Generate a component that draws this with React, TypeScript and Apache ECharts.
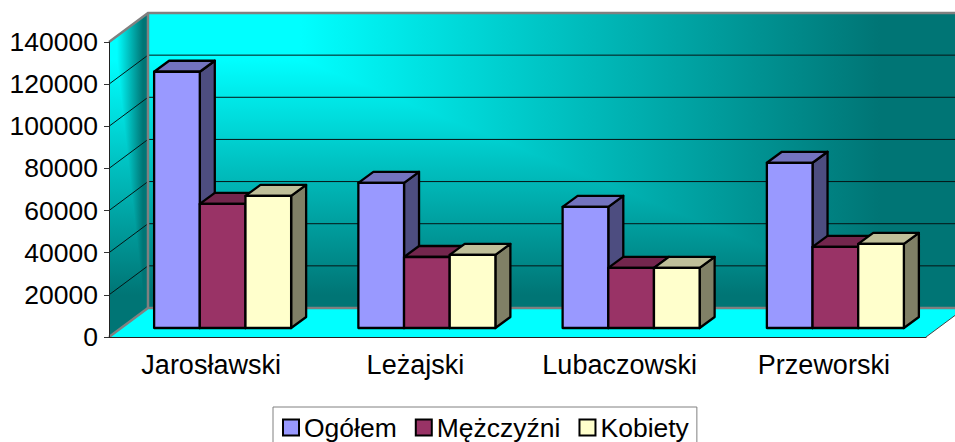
import React, { useEffect, useRef } from "react";
import * as echarts from "echarts";

const categories = ["Jarosławski", "Leżajski", "Lubaczowski", "Przeworski"];
const ogolem = [121600, 68900, 57500, 78400];
const mezczyzni = [58900, 33700, 28500, 38500];
const kobiety = [62700, 34700, 28500, 39900];
const yTicks = [20000, 40000, 60000, 80000, 100000, 120000];

const FONT = "Liberation Sans";
const DEPTH_X = 39;
const DEPTH_Y = 29;
const BAR_DX = 15;
const BAR_DY = 11;
const BAR_OFFSET_X = 11.5;
const BAR_OFFSET_Y = 9;
const BAR_FRACTION = 0.2236;
const BRIGHT = "#00ffff";
const DARK = "#007575";

function barItem(seriesIndex: number, front: string, top: string, side: string) {
  return (params: any, api: any) => {
    const cat = api.value(0);
    const value = api.value(1);
    const band = api.size([1, 0])[0];
    const w = band * BAR_FRACTION;
    const [cx, yTop] = api.coord([cat, value]);
    const yBase = api.coord([cat, 0])[1];
    const x0 = cx + BAR_OFFSET_X + (seriesIndex - 1.5) * w;
    const x1 = x0 + w;
    const y0 = yTop - BAR_OFFSET_Y;
    const y1 = yBase - BAR_OFFSET_Y;
    const lineStyle = { stroke: "#000", lineWidth: 2.3, lineJoin: "round" };
    return {
      type: "group",
      children: [
        {
          type: "polygon",
          shape: { points: [[x1, y0], [x1 + BAR_DX, y0 - BAR_DY], [x1 + BAR_DX, y1 - BAR_DY], [x1, y1]] },
          style: { fill: side, ...lineStyle },
        },
        {
          type: "polygon",
          shape: { points: [[x0, y0], [x0 + BAR_DX, y0 - BAR_DY], [x1 + BAR_DX, y0 - BAR_DY], [x1, y0]] },
          style: { fill: top, ...lineStyle },
        },
        {
          type: "rect",
          shape: { x: x0, y: y0, width: w, height: y1 - y0 },
          style: { fill: front, ...lineStyle },
        },
      ],
    };
  };
}

function grad(x1: number, y1: number, x2: number, y2: number) {
  const g: any = new echarts.graphic.LinearGradient(x1, y1, x2, y2, [
    { offset: 0, color: BRIGHT },
    { offset: 1, color: DARK },
  ]);
  g.global = true;
  return g;
}

function backdropItem(params: any, api: any) {
  const g = params.coordSys;
  const l = g.x, r = g.x + g.width, t = g.y, b = g.y + g.height;
  const wl = l + DEPTH_X, wr = r + DEPTH_X, wt = t - DEPTH_Y, wb = b - DEPTH_Y;
  const vert = () => grad(0, wt + 46, 0, wb - 13);
  const hBack = () => grad(wl + 152, 0, wl + 732, 0);
  const hSide = () => grad(l + 8, 0, l + 34, 0);
  const edge = { stroke: "#808080", lineWidth: 2.5 };
  const children: any[] = [
    {
      type: "polygon",
      shape: { points: [[l, b], [r, b], [wr, wb], [wl, wb]] },
      style: { fill: BRIGHT, stroke: "none" },
    },
    {
      type: "line",
      shape: { x1: r, y1: b, x2: wr, y2: wb },
      style: { stroke: "#444", lineWidth: 1 },
    },
    // left wall: vertical fade, then horizontal fade on the far side of the corner line
    {
      type: "polygon",
      shape: { points: [[l, t], [wl, wt], [wl, wb], [l, b]] },
      style: { fill: vert() },
    },
    {
      type: "polygon",
      shape: { points: [[l + 8, t - 6], [wl, wt], [wl, wb], [l + 34, b - 25], [l + 34, wb - 13], [l + 8, wt + 46]] },
      style: { fill: hSide() },
    },
    // back wall: same corner-style fade
    {
      type: "rect",
      shape: { x: wl, y: wt, width: wr - wl, height: wb - wt },
      style: { fill: vert() },
    },
    {
      type: "polygon",
      shape: {
        points: [[wl, wt], [wl + 152, wt + 46], [wl + 732, wb - 13], [wl + 732, wb], [wr, wb], [wr, wt]],
      },
      style: { fill: hBack() },
    },
  ];
  yTicks.forEach((tick) => {
    const y = api.coord([0, tick])[1];
    children.push({
      type: "polyline",
      shape: { points: [[l, y], [wl, y - DEPTH_Y], [wr, y - DEPTH_Y]] },
      style: { stroke: "#051515", lineWidth: 1, fill: "none" },
    });
  });
  children.push({
    type: "polyline",
    shape: { points: [[l, t], [wl, wt], [wr, wt]] },
    style: { ...edge, fill: "none" },
  });
  children.push({
    type: "polyline",
    shape: { points: [[l, b], [wl, wb], [wr, wb]] },
    style: { ...edge, fill: "none" },
  });
  children.push({
    type: "line",
    shape: { x1: wl, y1: wt, x2: wl, y2: wb },
    style: edge,
  });
  return { type: "group", children };
}

export default function App() {
  const ref = useRef<HTMLDivElement>(null);
  useEffect(() => {
    const chart = echarts.init(ref.current!, undefined, { renderer: "svg" });
    const seriesDef = (name: string, values: number[], index: number, front: string, top: string, side: string) => ({
      type: "custom",
      name,
      coordinateSystem: "cartesian2d",
      itemStyle: { color: front },
      renderItem: barItem(index, front, top, side),
      encode: { x: 0, y: 1 },
      data: values.map((v, i) => [i, v]),
      z: 3 + index,
      silent: true,
    });
    chart.setOption({
      animation: false,
      backgroundColor: "#fff",
      grid: { left: 109, right: 29, top: 42, bottom: 105, containLabel: false },
      xAxis: {
        type: "category",
        data: categories,
        z: 10,
        axisLine: { lineStyle: { color: "#222", width: 1 } },
        axisTick: { length: 5, lineStyle: { color: "#333" } },
        axisLabel: { fontFamily: FONT, fontSize: 27, color: "#000", margin: 14 },
      },
      yAxis: {
        type: "value",
        min: 0,
        max: 140000,
        interval: 20000,
        z: 10,
        axisLine: { show: true, lineStyle: { color: "#222", width: 1 } },
        axisTick: { show: true, length: 5, lineStyle: { color: "#333" } },
        splitLine: { show: false },
        axisLabel: { fontFamily: FONT, fontSize: 26.5, color: "#000", margin: 11, formatter: (v: number) => String(v) },
      },
      legend: {
        show: true,
        left: 273,
        top: 407,
        padding: [7, 8, 30, 9],
        itemGap: 18,
        itemWidth: 16,
        itemHeight: 16,
        icon: "rect",
        borderColor: "#808080",
        borderWidth: 1,
        backgroundColor: "#fff",
        textStyle: { fontFamily: FONT, fontSize: 26.5, color: "#000" },
        data: [
          { name: "Ogółem", itemStyle: { color: "#9999ff", borderColor: "#000", borderWidth: 2 } },
          { name: "Mężczyźni", itemStyle: { color: "#993366", borderColor: "#000", borderWidth: 2 } },
          { name: "Kobiety", itemStyle: { color: "#ffffcc", borderColor: "#000", borderWidth: 2 } },
        ],
      },
      series: [
        {
          type: "custom",
          name: "backdrop",
          coordinateSystem: "cartesian2d",
          renderItem: backdropItem,
          data: [[0, 0]],
          encode: { x: 0, y: 1 },
          z: 1,
          silent: true,
        },
        seriesDef("Ogółem", ogolem, 0, "#9999ff", "#7373bf", "#4d4d80"),
        seriesDef("Mężczyźni", mezczyzni, 1, "#993366", "#73264d", "#4d1a33"),
        seriesDef("Kobiety", kobiety, 2, "#ffffcc", "#bfbf99", "#808066"),
      ],
    });
    return () => chart.dispose();
  }, []);
  return <div ref={ref} style={{ position: "absolute", left: 0, top: 0, width: 955, height: 442, overflow: "hidden" }} />;
}
